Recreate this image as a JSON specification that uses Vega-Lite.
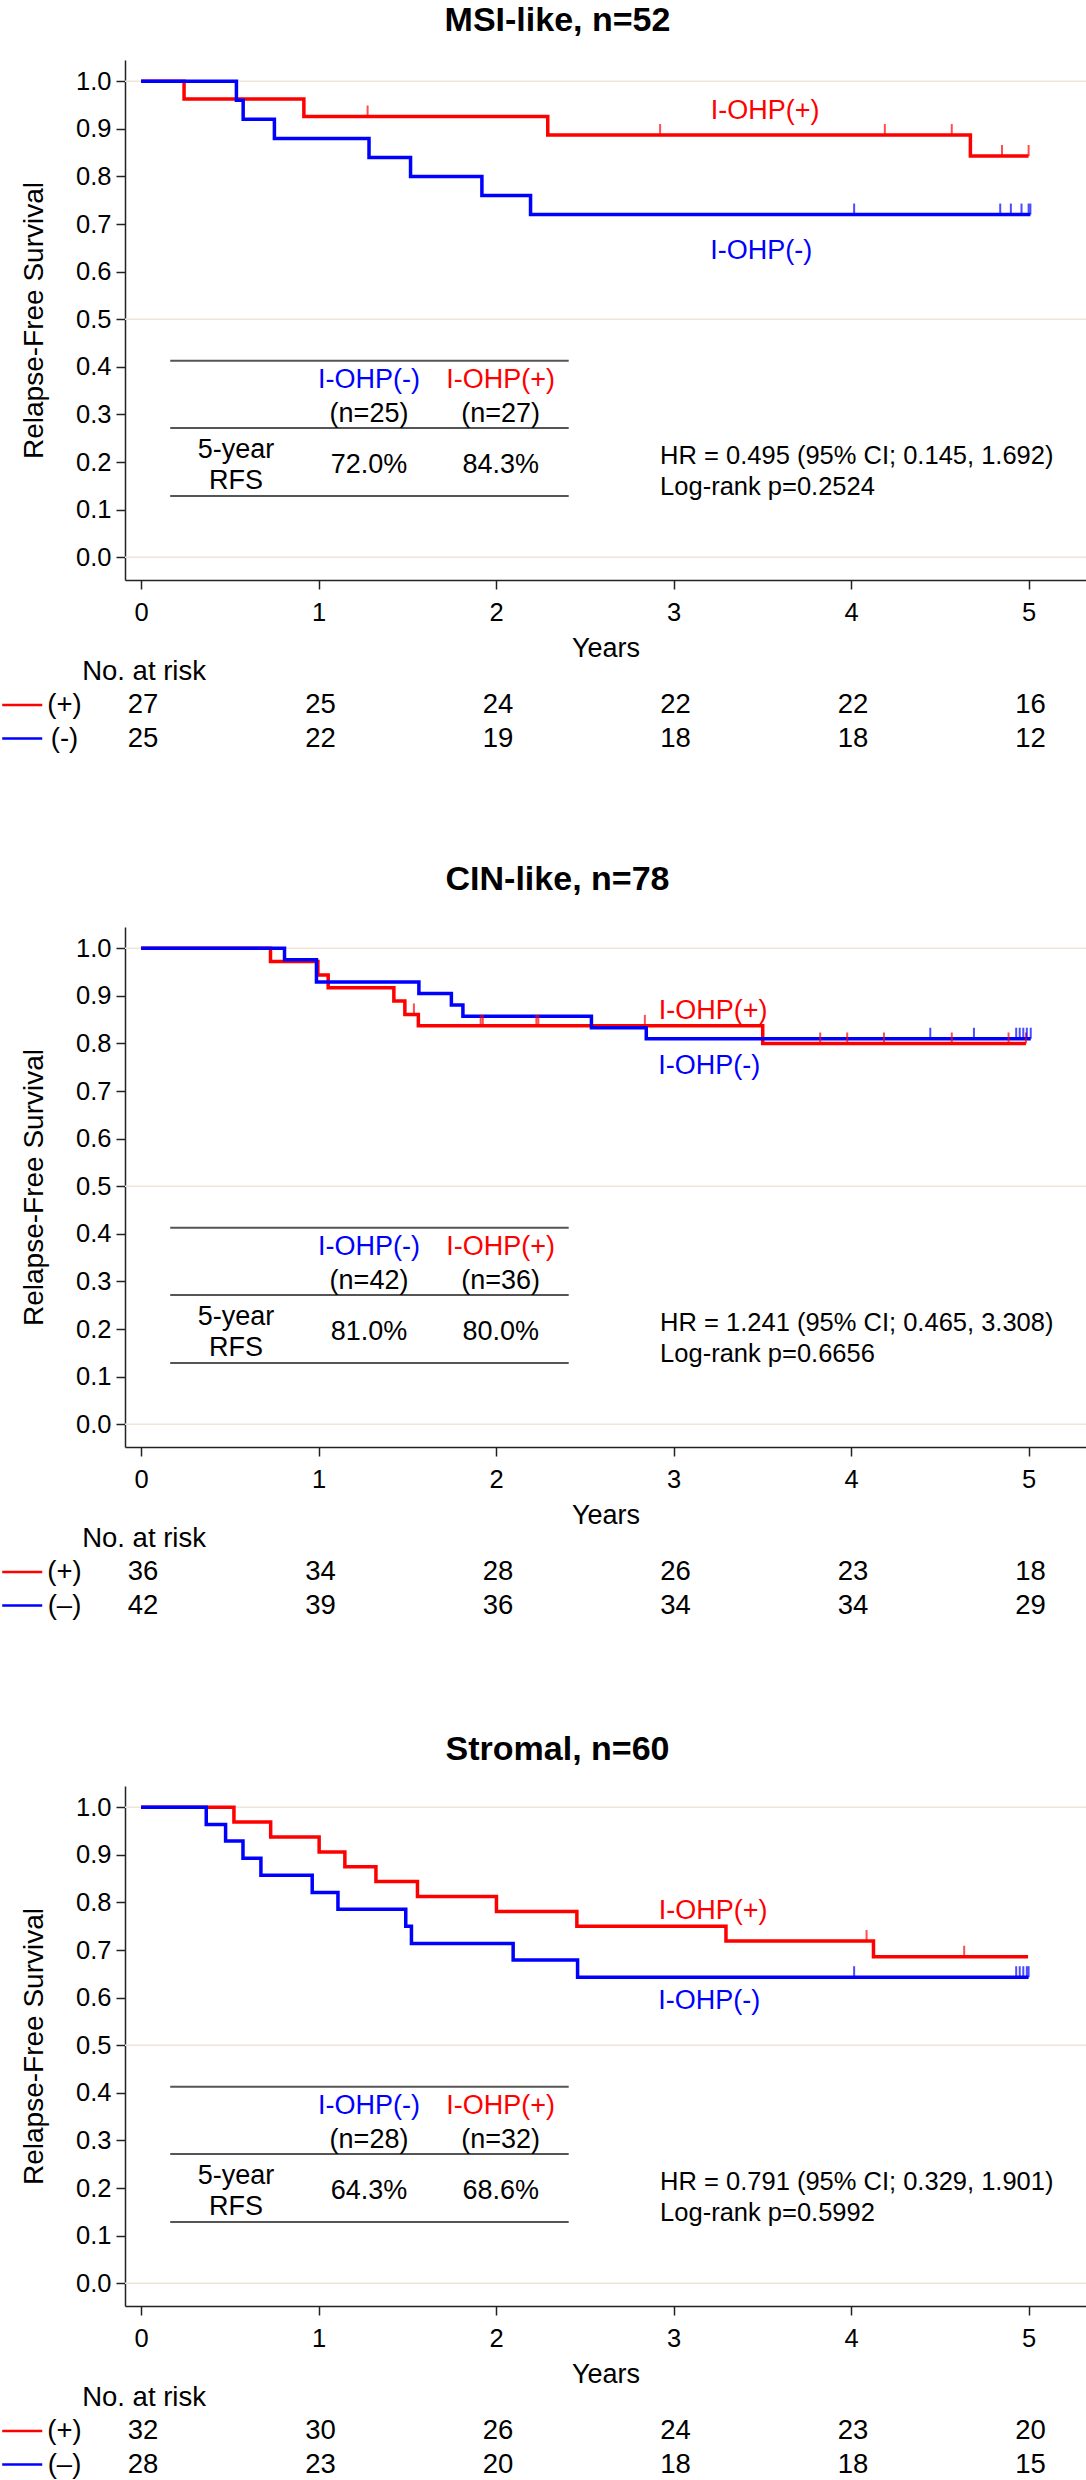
{
"$schema": "https://vega.github.io/schema/vega-lite/v6.json",
"autosize": {"type": "pad"},
"padding": {"left": 0, "top": 4, "right": 0, "bottom": 0},
"background": "white",
"config": {
  "font": "Liberation Sans",
  "view": {"stroke": null},
  "title": {"font": "Liberation Sans"},
  "axis": {"labelFont": "Liberation Sans", "titleFont": "Liberation Sans", "labelColor": "#000000", "titleColor": "#000000", "domainColor": "#222222", "tickColor": "#222222", "domainWidth": 1.5, "tickWidth": 1.5, "grid": false, "titleFontWeight": "normal", "labelFlush": false}
},
"datasets": {
  "gl": [{"y": 0}, {"y": 0.5}, {"y": 1}],
  "tl": [{"y": 0.413}, {"y": 0.2715}, {"y": 0.129}],
  "curves": [
    {"p":"MSI","g":"+","t":0,"s":1},{"p":"MSI","g":"+","t":0.242,"s":0.963},{"p":"MSI","g":"+","t":0.917,"s":0.926},{"p":"MSI","g":"+","t":2.291,"s":0.887},{"p":"MSI","g":"+","t":4.672,"s":0.843},{"p":"MSI","g":"+","t":5.0,"s":0.843},
    {"p":"MSI","g":"-","t":0,"s":1},{"p":"MSI","g":"-","t":0.537,"s":0.96},{"p":"MSI","g":"-","t":0.575,"s":0.92},{"p":"MSI","g":"-","t":0.751,"s":0.88},{"p":"MSI","g":"-","t":1.284,"s":0.84},{"p":"MSI","g":"-","t":1.518,"s":0.8},{"p":"MSI","g":"-","t":1.92,"s":0.76},{"p":"MSI","g":"-","t":2.194,"s":0.72},{"p":"MSI","g":"-","t":5.01,"s":0.72},
    {"p":"CIN","g":"+","t":0,"s":1},{"p":"CIN","g":"+","t":0.729,"s":0.972},{"p":"CIN","g":"+","t":0.996,"s":0.944},{"p":"CIN","g":"+","t":1.054,"s":0.917},{"p":"CIN","g":"+","t":1.424,"s":0.889},{"p":"CIN","g":"+","t":1.486,"s":0.861},{"p":"CIN","g":"+","t":1.562,"s":0.837},{"p":"CIN","g":"+","t":3.502,"s":0.8},{"p":"CIN","g":"+","t":4.985,"s":0.8},
    {"p":"CIN","g":"-","t":0,"s":1},{"p":"CIN","g":"-","t":0.808,"s":0.976},{"p":"CIN","g":"-","t":0.988,"s":0.929},{"p":"CIN","g":"-","t":1.565,"s":0.905},{"p":"CIN","g":"-","t":1.748,"s":0.881},{"p":"CIN","g":"-","t":1.813,"s":0.857},{"p":"CIN","g":"-","t":2.537,"s":0.833},{"p":"CIN","g":"-","t":2.846,"s":0.81},{"p":"CIN","g":"-","t":5.012,"s":0.81},
    {"p":"STR","g":"+","t":0,"s":1},{"p":"STR","g":"+","t":0.523,"s":0.969},{"p":"STR","g":"+","t":0.73,"s":0.9375},{"p":"STR","g":"+","t":1.003,"s":0.906},{"p":"STR","g":"+","t":1.148,"s":0.875},{"p":"STR","g":"+","t":1.323,"s":0.844},{"p":"STR","g":"+","t":1.557,"s":0.8125},{"p":"STR","g":"+","t":2.002,"s":0.781},{"p":"STR","g":"+","t":2.455,"s":0.75},{"p":"STR","g":"+","t":3.295,"s":0.719},{"p":"STR","g":"+","t":4.126,"s":0.686},{"p":"STR","g":"+","t":4.997,"s":0.686},
    {"p":"STR","g":"-","t":0,"s":1},{"p":"STR","g":"-","t":0.367,"s":0.964},{"p":"STR","g":"-","t":0.476,"s":0.929},{"p":"STR","g":"-","t":0.574,"s":0.893},{"p":"STR","g":"-","t":0.675,"s":0.857},{"p":"STR","g":"-","t":0.964,"s":0.821},{"p":"STR","g":"-","t":1.109,"s":0.786},{"p":"STR","g":"-","t":1.491,"s":0.75},{"p":"STR","g":"-","t":1.523,"s":0.714},{"p":"STR","g":"-","t":2.096,"s":0.679},{"p":"STR","g":"-","t":2.459,"s":0.643},{"p":"STR","g":"-","t":5.0,"s":0.643}
  ],
  "cens": [
    {"p":"MSI","g":"+","t":1.276,"s":0.926},{"p":"MSI","g":"+","t":2.924,"s":0.887},{"p":"MSI","g":"+","t":4.19,"s":0.887},{"p":"MSI","g":"+","t":4.567,"s":0.887},{"p":"MSI","g":"+","t":4.85,"s":0.843},{"p":"MSI","g":"+","t":5.0,"s":0.843},
    {"p":"MSI","g":"-","t":4.017,"s":0.72},{"p":"MSI","g":"-","t":4.84,"s":0.72},{"p":"MSI","g":"-","t":4.9,"s":0.72},{"p":"MSI","g":"-","t":4.96,"s":0.72},{"p":"MSI","g":"-","t":5.0,"s":0.72},{"p":"MSI","g":"-","t":5.01,"s":0.72},
    {"p":"CIN","g":"+","t":1.537,"s":0.861},{"p":"CIN","g":"+","t":1.913,"s":0.837},{"p":"CIN","g":"+","t":1.925,"s":0.837},{"p":"CIN","g":"+","t":2.227,"s":0.837},{"p":"CIN","g":"+","t":2.238,"s":0.837},{"p":"CIN","g":"+","t":2.838,"s":0.837},{"p":"CIN","g":"+","t":3.826,"s":0.8},{"p":"CIN","g":"+","t":3.978,"s":0.8},{"p":"CIN","g":"+","t":4.185,"s":0.8},{"p":"CIN","g":"+","t":4.567,"s":0.8},{"p":"CIN","g":"+","t":4.887,"s":0.8},{"p":"CIN","g":"+","t":4.985,"s":0.8},
    {"p":"CIN","g":"-","t":4.446,"s":0.81},{"p":"CIN","g":"-","t":4.692,"s":0.81},{"p":"CIN","g":"-","t":4.93,"s":0.81},{"p":"CIN","g":"-","t":4.95,"s":0.81},{"p":"CIN","g":"-","t":4.97,"s":0.81},{"p":"CIN","g":"-","t":4.99,"s":0.81},{"p":"CIN","g":"-","t":5.012,"s":0.81},
    {"p":"STR","g":"+","t":4.087,"s":0.719},{"p":"STR","g":"+","t":4.637,"s":0.686},
    {"p":"STR","g":"-","t":4.017,"s":0.643},{"p":"STR","g":"-","t":4.93,"s":0.643},{"p":"STR","g":"-","t":4.95,"s":0.643},{"p":"STR","g":"-","t":4.97,"s":0.643},{"p":"STR","g":"-","t":4.99,"s":0.643},{"p":"STR","g":"-","t":5.0,"s":0.643}
  ],
  "lab": [
    {"p":"MSI","t":"I-OHP(+)","x":3.515,"y":0.937,"g":"+"},{"p":"MSI","t":"I-OHP(-)","x":3.494,"y":0.643,"g":"-"},
    {"p":"MSI","t":"I-OHP(-)","x":1.284,"y":0.372,"g":"-"},{"p":"MSI","t":"I-OHP(+)","x":2.026,"y":0.372,"g":"+"},
    {"p":"MSI","t":"(n=25)","x":1.284,"y":0.3006,"g":"k"},{"p":"MSI","t":"(n=27)","x":2.026,"y":0.3006,"g":"k"},
    {"p":"MSI","t":"5-year","x":0.535,"y":0.226,"g":"k"},{"p":"MSI","t":"RFS","x":0.535,"y":0.1594,"g":"k"},
    {"p":"MSI","t":"72.0%","x":1.284,"y":0.194,"g":"k"},{"p":"MSI","t":"84.3%","x":2.026,"y":0.194,"g":"k"},
    {"p":"CIN","t":"I-OHP(+)","x":3.222,"y":0.8685,"g":"+"},{"p":"CIN","t":"I-OHP(-)","x":3.201,"y":0.752,"g":"-"},
    {"p":"CIN","t":"I-OHP(-)","x":1.284,"y":0.372,"g":"-"},{"p":"CIN","t":"I-OHP(+)","x":2.026,"y":0.372,"g":"+"},
    {"p":"CIN","t":"(n=42)","x":1.284,"y":0.3006,"g":"k"},{"p":"CIN","t":"(n=36)","x":2.026,"y":0.3006,"g":"k"},
    {"p":"CIN","t":"5-year","x":0.535,"y":0.226,"g":"k"},{"p":"CIN","t":"RFS","x":0.535,"y":0.1594,"g":"k"},
    {"p":"CIN","t":"81.0%","x":1.284,"y":0.194,"g":"k"},{"p":"CIN","t":"80.0%","x":2.026,"y":0.194,"g":"k"},
    {"p":"STR","t":"I-OHP(+)","x":3.222,"y":0.7824,"g":"+"},{"p":"STR","t":"I-OHP(-)","x":3.201,"y":0.5933,"g":"-"},
    {"p":"STR","t":"I-OHP(-)","x":1.284,"y":0.372,"g":"-"},{"p":"STR","t":"I-OHP(+)","x":2.026,"y":0.372,"g":"+"},
    {"p":"STR","t":"(n=28)","x":1.284,"y":0.3006,"g":"k"},{"p":"STR","t":"(n=32)","x":2.026,"y":0.3006,"g":"k"},
    {"p":"STR","t":"5-year","x":0.535,"y":0.226,"g":"k"},{"p":"STR","t":"RFS","x":0.535,"y":0.1594,"g":"k"},
    {"p":"STR","t":"64.3%","x":1.284,"y":0.194,"g":"k"},{"p":"STR","t":"68.6%","x":2.026,"y":0.194,"g":"k"}
  ],
  "hr": [
    {"p":"MSI","t":"HR = 0.495 (95% CI; 0.145, 1.692)","x":2.924,"y":0.212},{"p":"MSI","t":"Log-rank p=0.2524","x":2.924,"y":0.147},
    {"p":"CIN","t":"HR = 1.241 (95% CI; 0.465, 3.308)","x":2.924,"y":0.212},{"p":"CIN","t":"Log-rank p=0.6656","x":2.924,"y":0.147},
    {"p":"STR","t":"HR = 0.791 (95% CI; 0.329, 1.901)","x":2.924,"y":0.212},{"p":"STR","t":"Log-rank p=0.5992","x":2.924,"y":0.147}
  ],
  "rlab": [
    {"p":"MSI","g":"+","t":"(+)"},{"p":"MSI","g":"-","t":"(-)"},
    {"p":"CIN","g":"+","t":"(+)"},{"p":"CIN","g":"-","t":"(–)"},
    {"p":"STR","g":"+","t":"(+)"},{"p":"STR","g":"-","t":"(–)"}
  ],
  "risk": [
    {"p":"MSI","g":"+","t":0,"n":27},{"p":"MSI","g":"+","t":1,"n":25},{"p":"MSI","g":"+","t":2,"n":24},{"p":"MSI","g":"+","t":3,"n":22},{"p":"MSI","g":"+","t":4,"n":22},{"p":"MSI","g":"+","t":5,"n":16},
    {"p":"MSI","g":"-","t":0,"n":25},{"p":"MSI","g":"-","t":1,"n":22},{"p":"MSI","g":"-","t":2,"n":19},{"p":"MSI","g":"-","t":3,"n":18},{"p":"MSI","g":"-","t":4,"n":18},{"p":"MSI","g":"-","t":5,"n":12},
    {"p":"CIN","g":"+","t":0,"n":36},{"p":"CIN","g":"+","t":1,"n":34},{"p":"CIN","g":"+","t":2,"n":28},{"p":"CIN","g":"+","t":3,"n":26},{"p":"CIN","g":"+","t":4,"n":23},{"p":"CIN","g":"+","t":5,"n":18},
    {"p":"CIN","g":"-","t":0,"n":42},{"p":"CIN","g":"-","t":1,"n":39},{"p":"CIN","g":"-","t":2,"n":36},{"p":"CIN","g":"-","t":3,"n":34},{"p":"CIN","g":"-","t":4,"n":34},{"p":"CIN","g":"-","t":5,"n":29},
    {"p":"STR","g":"+","t":0,"n":32},{"p":"STR","g":"+","t":1,"n":30},{"p":"STR","g":"+","t":2,"n":26},{"p":"STR","g":"+","t":3,"n":24},{"p":"STR","g":"+","t":4,"n":23},{"p":"STR","g":"+","t":5,"n":20},
    {"p":"STR","g":"-","t":0,"n":28},{"p":"STR","g":"-","t":1,"n":23},{"p":"STR","g":"-","t":2,"n":20},{"p":"STR","g":"-","t":3,"n":18},{"p":"STR","g":"-","t":4,"n":18},{"p":"STR","g":"-","t":5,"n":15}
  ]
},
"vconcat": [
   {"width": 961, "height": 520,
    "title": {"text": "MSI-like, n=52", "fontSize": 34, "fontWeight": "bold", "frame": "group", "dx": -48, "offset": 22, "color": "#000000"},
    "layer": [
     {"data": {"name": "gl"}, "mark": {"type": "rule", "color": "#efe6d8", "strokeWidth": 1.5},
      "encoding": {"y": {"field": "y", "type": "quantitative", "scale": {"domain": [-0.0477, 1.0447], "nice": false, "zero": false},
        "axis": {"title": "Relapse-Free Survival", "values": [0,0.1,0.2,0.3,0.4,0.5,0.6,0.7,0.8,0.9,1], "format": ".1f", "labelFontSize": 25.5, "tickSize": 9, "labelPadding": 5, "titleFontSize": 28, "titleX": -83, "titleY": 260, "titleAngle": -90, "titleBaseline": "alphabetic", "titleAlign": "center"}}}},
     {"data": {"name": "tl"}, "mark": {"type": "rule", "color": "#555555", "strokeWidth": 2},
      "encoding": {"x": {"datum": 0.164, "type": "quantitative", "scale": {"domain": [-0.0907, 5.3233], "nice": false, "zero": false},
        "axis": {"title": "Years", "values": [0,1,2,3,4,5], "format": "d", "labelFontSize": 25.5, "tickSize": 9, "labelPadding": 11.5, "titleFontSize": 27, "titleY": 68.5, "titleBaseline": "middle"}},
       "x2": {"datum": 2.409},
       "y": {"field": "y", "type": "quantitative", "scale": {"domain": [-0.0477, 1.0447], "nice": false, "zero": false}}}},
     {"data": {"name": "lab"}, "transform": [{"filter": "datum.p=='MSI'"}], "mark": {"type": "text", "fontSize": 27, "baseline": "middle"},
      "encoding": {"x": {"field": "x", "type": "quantitative", "scale": {"domain": [-0.0907, 5.3233], "nice": false, "zero": false}},
       "y": {"field": "y", "type": "quantitative", "scale": {"domain": [-0.0477, 1.0447], "nice": false, "zero": false}},
       "text": {"field": "t"},
       "color": {"field": "g", "type": "nominal", "scale": {"domain": ["+","-","k"], "range": ["#ff0000","#0000ff","#000000"]}, "legend": null}}},
     {"data": {"name": "hr"}, "transform": [{"filter": "datum.p=='MSI'"}], "mark": {"type": "text", "fontSize": 25.5, "align": "left", "baseline": "middle", "color": "#000000"},
      "encoding": {"x": {"field": "x", "type": "quantitative", "scale": {"domain": [-0.0907, 5.3233], "nice": false, "zero": false}},
       "y": {"field": "y", "type": "quantitative", "scale": {"domain": [-0.0477, 1.0447], "nice": false, "zero": false}},
       "text": {"field": "t"}}},
     {"data": {"name": "curves"}, "transform": [{"filter": "datum.p=='MSI' && datum.g=='+'"}], "mark": {"type": "line", "interpolate": "step-after", "strokeWidth": 3.5, "color": "#ff0000"},
      "encoding": {"x": {"field": "t", "type": "quantitative", "scale": {"domain": [-0.0907, 5.3233], "nice": false, "zero": false}},
       "y": {"field": "s", "type": "quantitative", "scale": {"domain": [-0.0477, 1.0447], "nice": false, "zero": false}}}},
     {"data": {"name": "curves"}, "transform": [{"filter": "datum.p=='MSI' && datum.g=='-'"}], "mark": {"type": "line", "interpolate": "step-after", "strokeWidth": 3.5, "color": "#0000ff"},
      "encoding": {"x": {"field": "t", "type": "quantitative", "scale": {"domain": [-0.0907, 5.3233], "nice": false, "zero": false}},
       "y": {"field": "s", "type": "quantitative", "scale": {"domain": [-0.0477, 1.0447], "nice": false, "zero": false}}}},
     {"data": {"name": "cens"}, "transform": [{"filter": "datum.p=='MSI'"}], "mark": {"type": "tick", "orient": "vertical", "size": 11, "thickness": 2, "yOffset": -5.5},
      "encoding": {"x": {"field": "t", "type": "quantitative", "scale": {"domain": [-0.0907, 5.3233], "nice": false, "zero": false}},
       "y": {"field": "s", "type": "quantitative", "scale": {"domain": [-0.0477, 1.0447], "nice": false, "zero": false}},
       "color": {"field": "g", "type": "nominal", "scale": {"domain": ["+","-","k"], "range": ["#ff0000","#0000ff","#000000"]}, "legend": null}}}
    ]},
   {"width": 961, "height": 327,
    "layer": [
     {"data": {"values": [{"r": "hdr", "t": "No. at risk"}]}, "mark": {"type": "text", "fontSize": 27.5, "align": "left", "baseline": "middle", "color": "#000000"},
      "encoding": {"x": {"datum": -0.332, "type": "quantitative", "scale": {"domain": [-0.0907, 5.3233], "nice": false, "zero": false}, "axis": null},
       "y": {"field": "r", "type": "ordinal", "scale": {"type": "point", "domain": ["hdr","+","-"], "range": [81.6, 148.6], "padding": 0}, "axis": null},
       "text": {"field": "t"}}},
     {"data": {"name": "rlab"}, "transform": [{"filter": "datum.p=='MSI'"}], "mark": {"type": "rule", "strokeWidth": 2.5},
      "encoding": {"x": {"datum": -0.7825, "type": "quantitative", "scale": {"domain": [-0.0907, 5.3233], "nice": false, "zero": false}, "axis": null},
       "x2": {"datum": -0.557},
       "y": {"field": "g", "type": "ordinal", "scale": {"type": "point", "domain": ["hdr","+","-"], "range": [81.6, 148.6], "padding": 0}, "axis": null},
       "color": {"field": "g", "type": "nominal", "scale": {"domain": ["+","-"], "range": ["#ff0000","#0000ff"]}, "legend": null}}},
     {"data": {"name": "rlab"}, "transform": [{"filter": "datum.p=='MSI'"}], "mark": {"type": "text", "fontSize": 27.5, "baseline": "middle", "color": "#000000"},
      "encoding": {"x": {"datum": -0.4316, "type": "quantitative", "scale": {"domain": [-0.0907, 5.3233], "nice": false, "zero": false}, "axis": null},
       "y": {"field": "g", "type": "ordinal", "scale": {"type": "point", "domain": ["hdr","+","-"], "range": [81.6, 148.6], "padding": 0}, "axis": null},
       "text": {"field": "t"}}},
     {"data": {"name": "risk"}, "transform": [{"filter": "datum.p=='MSI'"}], "mark": {"type": "text", "fontSize": 27.5, "baseline": "middle", "dx": 2, "color": "#000000"},
      "encoding": {"x": {"field": "t", "type": "quantitative", "scale": {"domain": [-0.0907, 5.3233], "nice": false, "zero": false}, "axis": null},
       "y": {"field": "g", "type": "ordinal", "scale": {"type": "point", "domain": ["hdr","+","-"], "range": [81.6, 148.6], "padding": 0}, "axis": null},
       "text": {"field": "n"}}}
    ]},
   {"width": 961, "height": 520,
    "title": {"text": "CIN-like, n=78", "fontSize": 34, "fontWeight": "bold", "frame": "group", "dx": -48, "offset": 29.6, "color": "#000000"},
    "layer": [
     {"data": {"name": "gl"}, "mark": {"type": "rule", "color": "#efe6d8", "strokeWidth": 1.5},
      "encoding": {"y": {"field": "y", "type": "quantitative", "scale": {"domain": [-0.0477, 1.0447], "nice": false, "zero": false},
        "axis": {"title": "Relapse-Free Survival", "values": [0,0.1,0.2,0.3,0.4,0.5,0.6,0.7,0.8,0.9,1], "format": ".1f", "labelFontSize": 25.5, "tickSize": 9, "labelPadding": 5, "titleFontSize": 28, "titleX": -83, "titleY": 260, "titleAngle": -90, "titleBaseline": "alphabetic", "titleAlign": "center"}}}},
     {"data": {"name": "tl"}, "mark": {"type": "rule", "color": "#555555", "strokeWidth": 2},
      "encoding": {"x": {"datum": 0.164, "type": "quantitative", "scale": {"domain": [-0.0907, 5.3233], "nice": false, "zero": false},
        "axis": {"title": "Years", "values": [0,1,2,3,4,5], "format": "d", "labelFontSize": 25.5, "tickSize": 9, "labelPadding": 11.5, "titleFontSize": 27, "titleY": 68.5, "titleBaseline": "middle"}},
       "x2": {"datum": 2.409},
       "y": {"field": "y", "type": "quantitative", "scale": {"domain": [-0.0477, 1.0447], "nice": false, "zero": false}}}},
     {"data": {"name": "lab"}, "transform": [{"filter": "datum.p=='CIN'"}], "mark": {"type": "text", "fontSize": 27, "baseline": "middle"},
      "encoding": {"x": {"field": "x", "type": "quantitative", "scale": {"domain": [-0.0907, 5.3233], "nice": false, "zero": false}},
       "y": {"field": "y", "type": "quantitative", "scale": {"domain": [-0.0477, 1.0447], "nice": false, "zero": false}},
       "text": {"field": "t"},
       "color": {"field": "g", "type": "nominal", "scale": {"domain": ["+","-","k"], "range": ["#ff0000","#0000ff","#000000"]}, "legend": null}}},
     {"data": {"name": "hr"}, "transform": [{"filter": "datum.p=='CIN'"}], "mark": {"type": "text", "fontSize": 25.5, "align": "left", "baseline": "middle", "color": "#000000"},
      "encoding": {"x": {"field": "x", "type": "quantitative", "scale": {"domain": [-0.0907, 5.3233], "nice": false, "zero": false}},
       "y": {"field": "y", "type": "quantitative", "scale": {"domain": [-0.0477, 1.0447], "nice": false, "zero": false}},
       "text": {"field": "t"}}},
     {"data": {"name": "curves"}, "transform": [{"filter": "datum.p=='CIN' && datum.g=='+'"}], "mark": {"type": "line", "interpolate": "step-after", "strokeWidth": 3.5, "color": "#ff0000"},
      "encoding": {"x": {"field": "t", "type": "quantitative", "scale": {"domain": [-0.0907, 5.3233], "nice": false, "zero": false}},
       "y": {"field": "s", "type": "quantitative", "scale": {"domain": [-0.0477, 1.0447], "nice": false, "zero": false}}}},
     {"data": {"name": "curves"}, "transform": [{"filter": "datum.p=='CIN' && datum.g=='-'"}], "mark": {"type": "line", "interpolate": "step-after", "strokeWidth": 3.5, "color": "#0000ff"},
      "encoding": {"x": {"field": "t", "type": "quantitative", "scale": {"domain": [-0.0907, 5.3233], "nice": false, "zero": false}},
       "y": {"field": "s", "type": "quantitative", "scale": {"domain": [-0.0477, 1.0447], "nice": false, "zero": false}}}},
     {"data": {"name": "cens"}, "transform": [{"filter": "datum.p=='CIN'"}], "mark": {"type": "tick", "orient": "vertical", "size": 11, "thickness": 2, "yOffset": -5.5},
      "encoding": {"x": {"field": "t", "type": "quantitative", "scale": {"domain": [-0.0907, 5.3233], "nice": false, "zero": false}},
       "y": {"field": "s", "type": "quantitative", "scale": {"domain": [-0.0477, 1.0447], "nice": false, "zero": false}},
       "color": {"field": "g", "type": "nominal", "scale": {"domain": ["+","-","k"], "range": ["#ff0000","#0000ff","#000000"]}, "legend": null}}}
    ]},
   {"width": 961, "height": 318.4,
    "layer": [
     {"data": {"values": [{"r": "hdr", "t": "No. at risk"}]}, "mark": {"type": "text", "fontSize": 27.5, "align": "left", "baseline": "middle", "color": "#000000"},
      "encoding": {"x": {"datum": -0.332, "type": "quantitative", "scale": {"domain": [-0.0907, 5.3233], "nice": false, "zero": false}, "axis": null},
       "y": {"field": "r", "type": "ordinal", "scale": {"type": "point", "domain": ["hdr","+","-"], "range": [81.6, 148.6], "padding": 0}, "axis": null},
       "text": {"field": "t"}}},
     {"data": {"name": "rlab"}, "transform": [{"filter": "datum.p=='CIN'"}], "mark": {"type": "rule", "strokeWidth": 2.5},
      "encoding": {"x": {"datum": -0.7825, "type": "quantitative", "scale": {"domain": [-0.0907, 5.3233], "nice": false, "zero": false}, "axis": null},
       "x2": {"datum": -0.557},
       "y": {"field": "g", "type": "ordinal", "scale": {"type": "point", "domain": ["hdr","+","-"], "range": [81.6, 148.6], "padding": 0}, "axis": null},
       "color": {"field": "g", "type": "nominal", "scale": {"domain": ["+","-"], "range": ["#ff0000","#0000ff"]}, "legend": null}}},
     {"data": {"name": "rlab"}, "transform": [{"filter": "datum.p=='CIN'"}], "mark": {"type": "text", "fontSize": 27.5, "baseline": "middle", "color": "#000000"},
      "encoding": {"x": {"datum": -0.4316, "type": "quantitative", "scale": {"domain": [-0.0907, 5.3233], "nice": false, "zero": false}, "axis": null},
       "y": {"field": "g", "type": "ordinal", "scale": {"type": "point", "domain": ["hdr","+","-"], "range": [81.6, 148.6], "padding": 0}, "axis": null},
       "text": {"field": "t"}}},
     {"data": {"name": "risk"}, "transform": [{"filter": "datum.p=='CIN'"}], "mark": {"type": "text", "fontSize": 27.5, "baseline": "middle", "dx": 2, "color": "#000000"},
      "encoding": {"x": {"field": "t", "type": "quantitative", "scale": {"domain": [-0.0907, 5.3233], "nice": false, "zero": false}, "axis": null},
       "y": {"field": "g", "type": "ordinal", "scale": {"type": "point", "domain": ["hdr","+","-"], "range": [81.6, 148.6], "padding": 0}, "axis": null},
       "text": {"field": "n"}}}
    ]},
   {"width": 961, "height": 520,
    "title": {"text": "Stromal, n=60", "fontSize": 34, "fontWeight": "bold", "frame": "group", "dx": -48, "offset": 18.6, "color": "#000000"},
    "layer": [
     {"data": {"name": "gl"}, "mark": {"type": "rule", "color": "#efe6d8", "strokeWidth": 1.5},
      "encoding": {"y": {"field": "y", "type": "quantitative", "scale": {"domain": [-0.0477, 1.0447], "nice": false, "zero": false},
        "axis": {"title": "Relapse-Free Survival", "values": [0,0.1,0.2,0.3,0.4,0.5,0.6,0.7,0.8,0.9,1], "format": ".1f", "labelFontSize": 25.5, "tickSize": 9, "labelPadding": 5, "titleFontSize": 28, "titleX": -83, "titleY": 260, "titleAngle": -90, "titleBaseline": "alphabetic", "titleAlign": "center"}}}},
     {"data": {"name": "tl"}, "mark": {"type": "rule", "color": "#555555", "strokeWidth": 2},
      "encoding": {"x": {"datum": 0.164, "type": "quantitative", "scale": {"domain": [-0.0907, 5.3233], "nice": false, "zero": false},
        "axis": {"title": "Years", "values": [0,1,2,3,4,5], "format": "d", "labelFontSize": 25.5, "tickSize": 9, "labelPadding": 11.5, "titleFontSize": 27, "titleY": 68.5, "titleBaseline": "middle"}},
       "x2": {"datum": 2.409},
       "y": {"field": "y", "type": "quantitative", "scale": {"domain": [-0.0477, 1.0447], "nice": false, "zero": false}}}},
     {"data": {"name": "lab"}, "transform": [{"filter": "datum.p=='STR'"}], "mark": {"type": "text", "fontSize": 27, "baseline": "middle"},
      "encoding": {"x": {"field": "x", "type": "quantitative", "scale": {"domain": [-0.0907, 5.3233], "nice": false, "zero": false}},
       "y": {"field": "y", "type": "quantitative", "scale": {"domain": [-0.0477, 1.0447], "nice": false, "zero": false}},
       "text": {"field": "t"},
       "color": {"field": "g", "type": "nominal", "scale": {"domain": ["+","-","k"], "range": ["#ff0000","#0000ff","#000000"]}, "legend": null}}},
     {"data": {"name": "hr"}, "transform": [{"filter": "datum.p=='STR'"}], "mark": {"type": "text", "fontSize": 25.5, "align": "left", "baseline": "middle", "color": "#000000"},
      "encoding": {"x": {"field": "x", "type": "quantitative", "scale": {"domain": [-0.0907, 5.3233], "nice": false, "zero": false}},
       "y": {"field": "y", "type": "quantitative", "scale": {"domain": [-0.0477, 1.0447], "nice": false, "zero": false}},
       "text": {"field": "t"}}},
     {"data": {"name": "curves"}, "transform": [{"filter": "datum.p=='STR' && datum.g=='+'"}], "mark": {"type": "line", "interpolate": "step-after", "strokeWidth": 3.5, "color": "#ff0000"},
      "encoding": {"x": {"field": "t", "type": "quantitative", "scale": {"domain": [-0.0907, 5.3233], "nice": false, "zero": false}},
       "y": {"field": "s", "type": "quantitative", "scale": {"domain": [-0.0477, 1.0447], "nice": false, "zero": false}}}},
     {"data": {"name": "curves"}, "transform": [{"filter": "datum.p=='STR' && datum.g=='-'"}], "mark": {"type": "line", "interpolate": "step-after", "strokeWidth": 3.5, "color": "#0000ff"},
      "encoding": {"x": {"field": "t", "type": "quantitative", "scale": {"domain": [-0.0907, 5.3233], "nice": false, "zero": false}},
       "y": {"field": "s", "type": "quantitative", "scale": {"domain": [-0.0477, 1.0447], "nice": false, "zero": false}}}},
     {"data": {"name": "cens"}, "transform": [{"filter": "datum.p=='STR'"}], "mark": {"type": "tick", "orient": "vertical", "size": 11, "thickness": 2, "yOffset": -5.5},
      "encoding": {"x": {"field": "t", "type": "quantitative", "scale": {"domain": [-0.0907, 5.3233], "nice": false, "zero": false}},
       "y": {"field": "s", "type": "quantitative", "scale": {"domain": [-0.0477, 1.0447], "nice": false, "zero": false}},
       "color": {"field": "g", "type": "nominal", "scale": {"domain": ["+","-","k"], "range": ["#ff0000","#0000ff","#000000"]}, "legend": null}}}
    ]},
   {"width": 961, "height": 160,
    "layer": [
     {"data": {"values": [{"r": "hdr", "t": "No. at risk"}]}, "mark": {"type": "text", "fontSize": 27.5, "align": "left", "baseline": "middle", "color": "#000000"},
      "encoding": {"x": {"datum": -0.332, "type": "quantitative", "scale": {"domain": [-0.0907, 5.3233], "nice": false, "zero": false}, "axis": null},
       "y": {"field": "r", "type": "ordinal", "scale": {"type": "point", "domain": ["hdr","+","-"], "range": [81.6, 148.6], "padding": 0}, "axis": null},
       "text": {"field": "t"}}},
     {"data": {"name": "rlab"}, "transform": [{"filter": "datum.p=='STR'"}], "mark": {"type": "rule", "strokeWidth": 2.5},
      "encoding": {"x": {"datum": -0.7825, "type": "quantitative", "scale": {"domain": [-0.0907, 5.3233], "nice": false, "zero": false}, "axis": null},
       "x2": {"datum": -0.557},
       "y": {"field": "g", "type": "ordinal", "scale": {"type": "point", "domain": ["hdr","+","-"], "range": [81.6, 148.6], "padding": 0}, "axis": null},
       "color": {"field": "g", "type": "nominal", "scale": {"domain": ["+","-"], "range": ["#ff0000","#0000ff"]}, "legend": null}}},
     {"data": {"name": "rlab"}, "transform": [{"filter": "datum.p=='STR'"}], "mark": {"type": "text", "fontSize": 27.5, "baseline": "middle", "color": "#000000"},
      "encoding": {"x": {"datum": -0.4316, "type": "quantitative", "scale": {"domain": [-0.0907, 5.3233], "nice": false, "zero": false}, "axis": null},
       "y": {"field": "g", "type": "ordinal", "scale": {"type": "point", "domain": ["hdr","+","-"], "range": [81.6, 148.6], "padding": 0}, "axis": null},
       "text": {"field": "t"}}},
     {"data": {"name": "risk"}, "transform": [{"filter": "datum.p=='STR'"}], "mark": {"type": "text", "fontSize": 27.5, "baseline": "middle", "dx": 2, "color": "#000000"},
      "encoding": {"x": {"field": "t", "type": "quantitative", "scale": {"domain": [-0.0907, 5.3233], "nice": false, "zero": false}, "axis": null},
       "y": {"field": "g", "type": "ordinal", "scale": {"type": "point", "domain": ["hdr","+","-"], "range": [81.6, 148.6], "padding": 0}, "axis": null},
       "text": {"field": "n"}}}
    ]}
],
"spacing": 10,
"bounds": "flush"
}
